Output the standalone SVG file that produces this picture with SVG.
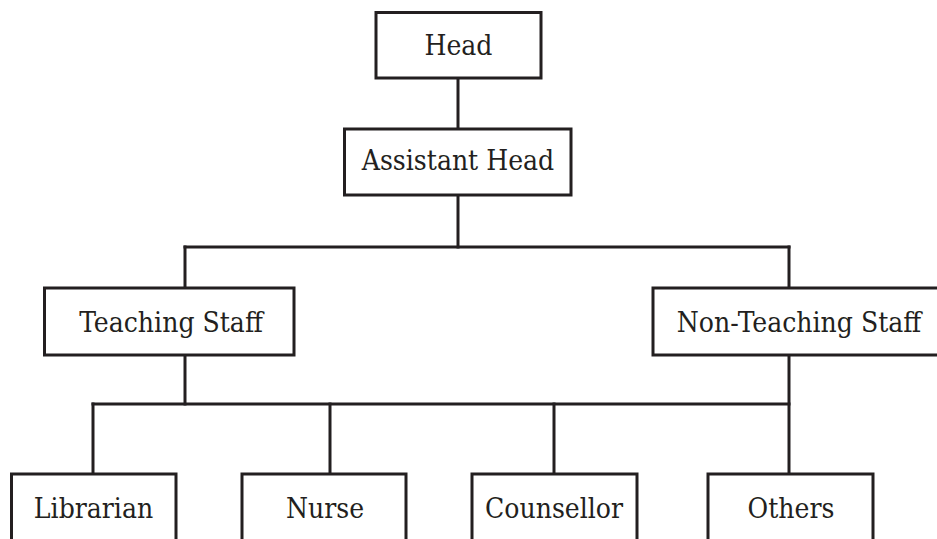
<svg xmlns="http://www.w3.org/2000/svg" width="937" height="539" viewBox="0 0 937 539">
<style>
.box{fill:#fff;stroke:#231f20;stroke-width:3}
.lbl{font-family:"DejaVu Serif Condensed","DejaVu Serif","Liberation Serif",serif;font-stretch:condensed;font-size:28px;fill:#231f20;text-anchor:middle}
.conn line{stroke:#231f20;stroke-width:3;stroke-linecap:square}
</style>
<rect width="937" height="539" fill="#fff"/>
<g id="connectors" class="conn">
<line x1="458" y1="78" x2="458" y2="129"/>
<line x1="458" y1="195" x2="458" y2="247"/>
<line x1="185" y1="247" x2="789" y2="247"/>
<line x1="185" y1="247" x2="185" y2="288"/>
<line x1="789" y1="247" x2="789" y2="288"/>
<line x1="185" y1="355" x2="185" y2="404"/>
<line x1="789" y1="355" x2="789" y2="474"/>
<line x1="93" y1="404" x2="789" y2="404"/>
<line x1="93" y1="404" x2="93" y2="474"/>
<line x1="330" y1="404" x2="330" y2="474"/>
<line x1="554" y1="404" x2="554" y2="474"/>
</g>
<g id="head"><rect class="box" x="376" y="12.5" width="165" height="65.5"/><text class="lbl" x="458.5" y="55">Head</text></g>
<g id="assistant-head"><rect class="box" x="344.5" y="129" width="226.5" height="66"/><text class="lbl" x="458" y="170">Assistant Head</text></g>
<g id="teaching-staff"><rect class="box" x="44.5" y="288" width="249.5" height="67"/><text class="lbl" x="171" y="332">Teaching Staff</text></g>
<g id="non-teaching-staff"><rect class="box" x="653" y="288" width="300" height="67"/><text class="lbl" x="799" y="332">Non-Teaching Staff</text></g>
<g id="librarian"><rect class="box" x="11.5" y="474" width="164.5" height="90"/><text class="lbl" x="93.5" y="518">Librarian</text></g>
<g id="nurse"><rect class="box" x="242" y="474" width="164" height="90"/><text class="lbl" x="325" y="518">Nurse</text></g>
<g id="counsellor"><rect class="box" x="472" y="474" width="165" height="90"/><text class="lbl" x="554" y="518">Counsellor</text></g>
<g id="others"><rect class="box" x="708" y="474" width="165" height="90"/><text class="lbl" x="791" y="518">Others</text></g>
</svg>
